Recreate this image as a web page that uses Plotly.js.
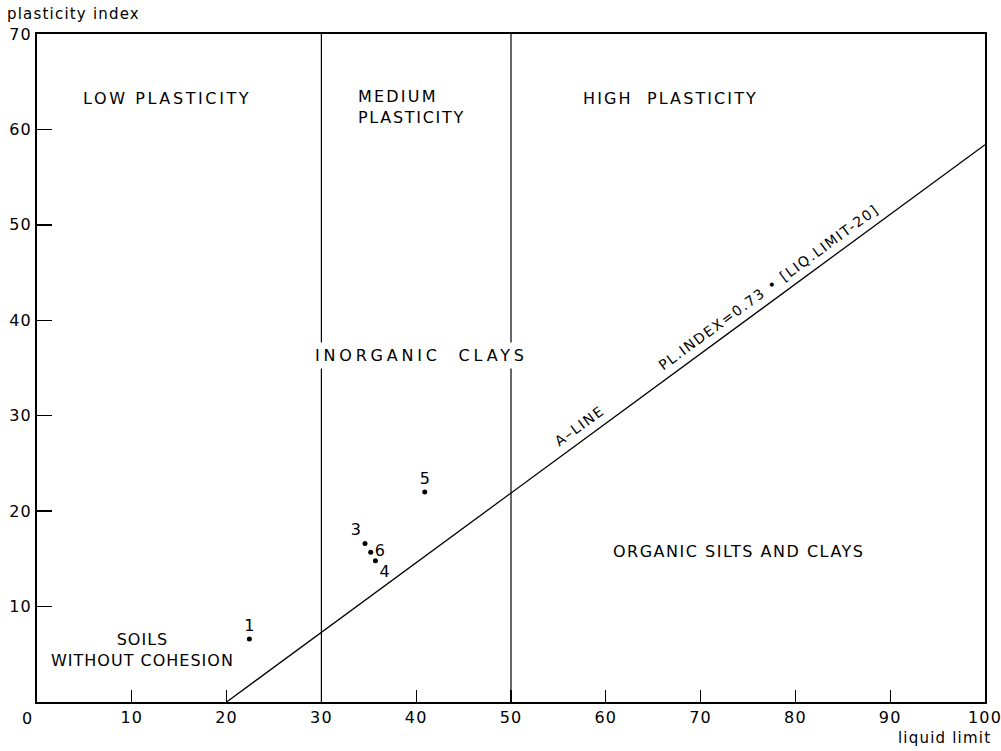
<!DOCTYPE html>
<html>
<head>
<meta charset="utf-8">
<script src="https://cdn.plot.ly/plotly-3.0.1.min.js"></script>
<style>
body{margin:0;background:#fff;}
#chart{width:1001px;height:751px;}
</style>
</head>
<body>
<div id="chart"></div>
<script>
// Data
var pointLabels = ['1', '3', '6', '4', '5'];
var liquidLimit = [22.4, 34.6, 35.2, 35.7, 40.9];
var plasticityIndex = [6.6, 16.6, 15.7, 14.8, 22.0];
var labelPositions = ['top center', 'top left', 'middle right', 'bottom right', 'top center'];

var aLineX = [20, 100];
var aLineY = [0, 58.4];

var boundaryX = [30, 50];
var yRange = [0, 70];
var xRange = [0, 100];

var xTicks = [10, 20, 30, 40, 50, 60, 70, 80, 90, 100];
var yTicks = [10, 20, 30, 40, 50, 60, 70];

var FONT = 'DejaVu Sans, Liberation Sans, sans-serif';

function spaced(txt, px) {
  return '<span style="letter-spacing:' + px + 'px">' + txt + '</span>';
}

var traces = [];
boundaryX.forEach(function (bx) {
  traces.push({
    x: [bx, bx], y: yRange, mode: 'lines',
    line: {color: '#000', width: 1.2}, hoverinfo: 'skip', showlegend: false
  });
});
traces.push({
  x: aLineX, y: aLineY, mode: 'lines',
  line: {color: '#000', width: 1.3}, hoverinfo: 'skip', showlegend: false
});
traces.push({
  x: liquidLimit, y: plasticityIndex, mode: 'markers+text',
  text: pointLabels, textposition: labelPositions,
  textfont: {family: FONT, size: 16, color: '#000'},
  marker: {color: '#000', size: 5}, showlegend: false
});

var ann = function (txt, x, y, opts) {
  var a = {
    text: txt, x: x, y: y, xref: 'x', yref: 'y', showarrow: false,
    font: {family: FONT, size: 16, color: '#000'}
  };
  for (var k in opts) a[k] = opts[k];
  return a;
};

var annotations = [
  ann(spaced('LOW PLASTICITY', 2.6), 13.7, 63.2, {}),
  ann(spaced('MEDIUM', 2.2) + '<br>' + spaced('PLASTICITY', 1.7), 33.6, 62.3, {xanchor: 'left', align: 'left'}),
  ann(spaced('HIGH  PLASTICITY', 2.1), 66.8, 63.2, {}),
  ann(spaced('INORGANIC  CLAYS', 3.8), 40.6, 36.3, {bgcolor: '#fff', borderpad: 3}),
  ann(spaced('ORGANIC SILTS AND CLAYS', 1.5), 74.0, 15.8, {}),
  ann(spaced('SOILS', 1.0) + '<br>' + spaced('WITHOUT COHESION', 1.0), 11.1, 5.4, {align: 'center'}),
  ann(spaced('A\u2013LINE', 1.6), 57.2, 28.9, {textangle: -36.3, font: {family: FONT, size: 14, color: '#000'}}),
  ann(spaced('PL.INDEX=0.73 \u2022 [LIQ.LIMIT-20]', 1.6), 77.2, 43.5, {textangle: -36.3, font: {family: FONT, size: 14, color: '#000'}}),
  {text: '0', xref: 'x', yref: 'paper', x: 0, y: 0, xshift: -10, yshift: -5,
   xanchor: 'center', yanchor: 'top', showarrow: false,
   font: {family: FONT, size: 16, color: '#000'}},
  {text: spaced('plasticity index', 1.2), xref: 'paper', yref: 'paper', x: -0.034, y: 1.030,
   xanchor: 'left', yanchor: 'middle', showarrow: false,
   font: {family: FONT, size: 15, color: '#000'}},
  {text: spaced('liquid limit', 1.2), xref: 'paper', yref: 'paper', x: 1.008, y: -0.054,
   xanchor: 'right', yanchor: 'middle', showarrow: false,
   font: {family: FONT, size: 15, color: '#000'}}
];

var layout = {
  width: 1001, height: 751,
  margin: {l: 37, r: 16, t: 34, b: 49},
  paper_bgcolor: '#fff', plot_bgcolor: '#fff',
  showlegend: false,
  font: {family: FONT, size: 16, color: '#000'},
  xaxis: {
    range: xRange, tickvals: xTicks, ticktext: xTicks.map(function (v) { return spaced(String(v), 1.2); }),
    ticks: 'inside', ticklen: 12, tickwidth: 1.3, tickcolor: '#000',
    ticklabeloverflow: 'allow',
    showline: true, linecolor: '#000', linewidth: 1.8, mirror: true,
    showgrid: false, zeroline: false,
    tickfont: {family: FONT, size: 16, color: '#000'}
  },
  yaxis: {
    range: yRange, tickvals: yTicks, ticktext: yTicks.map(function (v) { return spaced(String(v), 1.2); }),
    ticks: 'inside', ticklen: 15, tickwidth: 1.3, tickcolor: '#000',
    ticklabeloverflow: 'allow',
    showline: true, linecolor: '#000', linewidth: 1.8, mirror: true,
    showgrid: false, zeroline: false,
    tickfont: {family: FONT, size: 16, color: '#000'}
  },
  annotations: annotations
};

Plotly.newPlot('chart', traces, layout, {displayModeBar: false, staticPlot: true});
</script>
</body>
</html>
